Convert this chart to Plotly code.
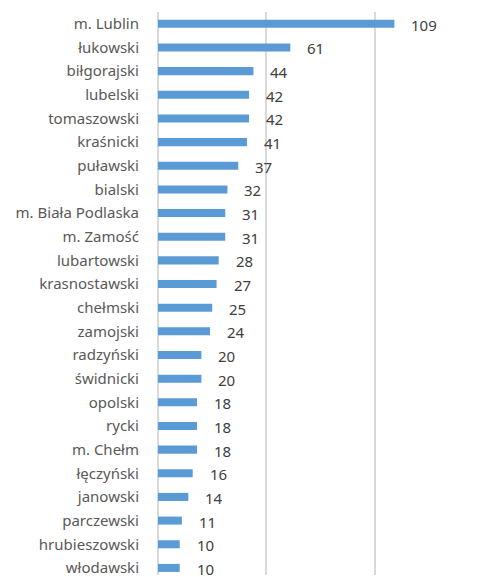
import plotly.graph_objects as go

powiaty = [
    "m. Lublin", "łukowski", "biłgorajski", "lubelski", "tomaszowski", "kraśnicki",
    "puławski", "bialski", "m. Biała Podlaska", "m. Zamość", "lubartowski",
    "krasnostawski", "chełmski", "zamojski", "radzyński", "świdnicki", "opolski",
    "rycki", "m. Chełm", "łęczyński", "janowski", "parczewski", "hrubieszowski",
    "włodawski",
]
wartosci = [109, 61, 44, 42, 42, 41, 37, 32, 31, 31, 28, 27, 25, 24, 20, 20,
            18, 18, 18, 16, 14, 11, 10, 10]

fig = go.Figure(
    go.Bar(
        x=wartosci,
        y=powiaty,
        orientation="h",
        marker=dict(color="#5B9BD5", line=dict(width=0)),
        hoverinfo="x+y",
    )
)

for p, v in zip(powiaty, wartosci):
    fig.add_annotation(
        x=v, y=p, text=str(v), showarrow=False,
        xanchor="left", yanchor="middle", xshift=15, yshift=-1,
        font=dict(family="Noto Sans", size=15, color="#404040"),
    )

fig.update_layout(
    width=479, height=577,
    margin=dict(l=158, r=0, t=12, b=0),
    paper_bgcolor="white", plot_bgcolor="white",
    bargap=0.66,
    showlegend=False,
    font=dict(family="Noto Sans", size=15, color="#595959"),
)
fig.update_xaxes(
    range=[0, 148], tickvals=[0, 50, 100, 150], showticklabels=False,
    showgrid=True, gridcolor="#D9D9D9", gridwidth=1.5,
    zeroline=True, zerolinecolor="#D9D9D9", zerolinewidth=1.5,
    showline=False,
)
fig.update_yaxes(
    categoryorder="array", categoryarray=powiaty,
    range=[23.3, -0.5], showgrid=False, zeroline=False, showline=False,
    ticks="", ticklabelstandoff=18,
    tickfont=dict(family="Noto Sans", size=15, color="#595959"),
)

fig.write_html("out.html")
